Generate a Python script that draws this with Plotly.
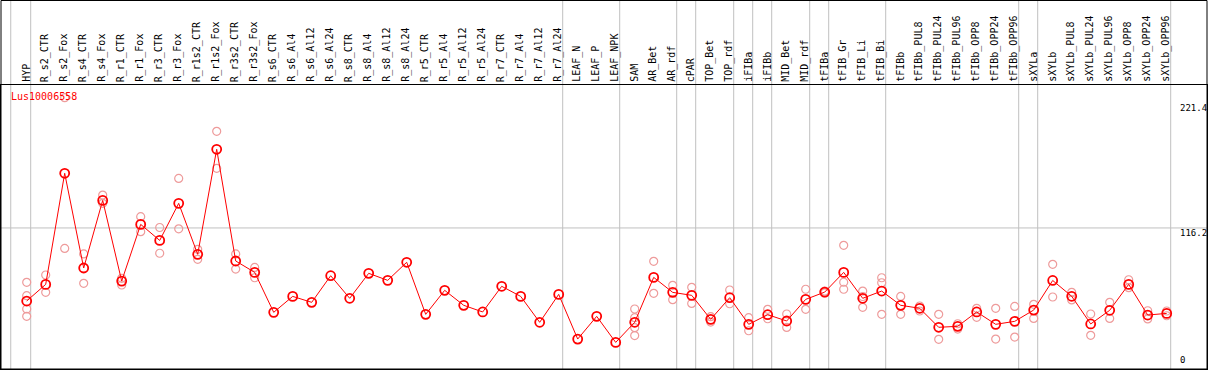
import plotly.graph_objects as go

categories = [
    "HYP", "R_s2_CTR", "R_s2_Fox", "R_s4_CTR", "R_s4_Fox", "R_r1_CTR", "R_r1_Fox",
    "R_r3_CTR", "R_r3_Fox", "R_r1s2_CTR", "R_r1s2_Fox", "R_r3s2_CTR", "R_r3s2_Fox",
    "R_s6_CTR", "R_s6_Al4", "R_s6_Al12", "R_s6_Al24", "R_s8_CTR", "R_s8_Al4",
    "R_s8_Al12", "R_s8_Al24", "R_r5_CTR", "R_r5_Al4", "R_r5_Al12", "R_r5_Al24",
    "R_r7_CTR", "R_r7_Al4", "R_r7_Al12", "R_r7_Al24", "LEAF_N", "LEAF_P", "LEAF_NPK",
    "SAM", "AR_Bet", "AR_rdf", "cPAR", "TOP_Bet", "TOP_rdf", "iFIBa", "iFIBb",
    "MID_Bet", "MID_rdf", "tFIBa", "tFIB_Gr", "tFIB_Li", "tFIB_Bi", "tFIBb",
    "tFIBb_PUL8", "tFIBb_PUL24", "tFIBb_PUL96", "tFIBb_OPP8", "tFIBb_OPP24",
    "tFIBb_OPP96", "sXYLa", "sXYLb", "sXYLb_PUL8", "sXYLb_PUL24", "sXYLb_PUL96",
    "sXYLb_OPP8", "sXYLb_OPP24", "sXYLb_OPP96",
]

# group sizes (vertical separators drawn after each group)
group_sizes = [1, 28, 3, 3, 1, 2, 1, 1, 2, 1, 3, 7, 1, 7]

mean_values = [
    54.7, 68.7, 162.2, 82.5, 139.4, 71.5, 119.2, 105.7, 136.9, 94.0, 182.4, 88.4, 78.8,
    45.2, 58.6, 53.6, 76.0, 57.0, 78.0, 72.1, 87.3, 43.5, 63.7, 51.1, 45.5, 67.1, 58.6,
    36.8, 60.3, 22.7, 41.8, 19.9, 36.8, 74.6, 62.0, 59.5, 39.3, 57.5, 35.1, 43.2, 37.9,
    56.1, 62.2, 78.8, 57.0, 63.1, 51.1, 48.6, 32.6, 33.4, 45.5, 35.1, 37.6, 47.1, 72.0,
    58.7, 35.4, 46.9, 68.7, 42.9, 44.3,
]

N = None
rep_a = [70.4, 76.6, 225.8, 94.3, 143.9, 73.8, 125.7, 116.6, 157.9, 98.2, 197.5, 94.3, 83.0,
         N, N, N, N, N, N, N, N, N, N, N, N, N, N, N, N, N, N, N,
         48.0, 88.1, 67.9, 66.2, 41.5, 64.0, 40.7, 47.7, 43.8, 64.6, 63.0, 101.6, 63.1, 74.3,
         58.6, 50.5, 43.5, 35.6, 48.6, 48.6, 50.2, 51.9, 85.6, 62.0, 43.8, 53.6, 72.6, 46.5, 46.3]
rep_b = [59.2, 62.0, 99.0, 69.6, 136.9, 68.2, 113.1, 94.9, 115.5, 89.8, 166.4, 81.6, 74.3,
         N, N, N, N, N, N, N, N, N, N, N, N, N, N, N, N, N, N, N,
         40.7, 61.2, 55.8, 52.7, 37.0, 52.4, 29.7, 39.8, 32.5, 47.7, 61.5, 70.5, 58.5, 70.1,
         43.5, 46.3, 22.5, 31.1, 41.0, 22.7, 24.4, 40.1, 58.1, 55.6, 25.8, 40.1, 65.9, 39.6, 42.3]
rep_c = [48.0, N, N, N, N, N, N, N, N, N, N, N, N,
         N, N, N, N, N, N, N, N, N, N, N, N, N, N, N, N, N, N, N,
         32.3, N, N, N, N, N, N, N, N, N, N, 64.6, 49.4, 43.5,
         N, N, N, N, N, N, N, N, N, N, N, N, N, N, N]
rep_d = [41.8, N, N, N, N, N, N, N, N, N, N, N, N,
         N, N, N, N, N, N, N, N, N, N, N, N, N, N, N, N, N, N, N,
         25.6, N, N, N, N, N, N, N, N, N, N, N, N, N,
         N, N, N, N, N, N, N, N, N, N, N, N, N, N, N]

y_tick_values = [221.4, 116.2, 0]
y_tick_labels = ["221.4", "116.2", "0"]
gene_name = "Lus10006558"

FONT = "DejaVu Sans Mono"
W, H = 1209, 370
ML, MR, MT, MB = 1, 2, 85, 1
plot_h = H - MT - MB
x_idx = list(range(len(categories)))

rep_x, rep_y = [], []
for reps in (rep_a, rep_b, rep_c, rep_d):
    for i, v in enumerate(reps):
        if v is not None:
            rep_x.append(i)
            rep_y.append(v)

fig = go.Figure()
fig.add_trace(go.Scatter(
    x=rep_x, y=rep_y, mode="markers",
    marker=dict(symbol="circle-open", size=8, color="rgb(238,155,155)", line=dict(width=1.2)),
    hoverinfo="skip", showlegend=False,
))
fig.add_trace(go.Scatter(
    x=x_idx, y=mean_values, mode="lines+markers",
    line=dict(color="red", width=1),
    marker=dict(symbol="circle-open", size=9, color="red", line=dict(width=1.8)),
    hoverinfo="skip", showlegend=False,
))

shapes = []
off = 0.21
seps = [-0.84]
acc = 0
for g in group_sizes:
    acc += g
    seps.append(acc - 1 + off)
top_paper = 1 + MT / plot_h
for s in seps:
    shapes.append(dict(type="line", xref="x", yref="paper", x0=s, x1=s, y0=0, y1=top_paper,
                       line=dict(color="rgb(192,192,192)", width=1), layer="below"))
shapes.append(dict(type="line", xref="paper", yref="y", x0=0, x1=1, y0=y_tick_values[1],
                   y1=y_tick_values[1], line=dict(color="rgb(192,192,192)", width=1), layer="below"))
shapes.append(dict(type="rect", xref="paper", yref="paper", x0=0, x1=1, y0=0, y1=top_paper - 0.5 / plot_h,
                   line=dict(color="black", width=1)))

annotations = []
for i, c in enumerate(categories):
    annotations.append(dict(x=i - 0.05, y=1, xref="x", yref="paper", text=c, showarrow=False,
                            textangle=-90, xanchor="center", yanchor="bottom", yshift=1,
                            font=dict(family=FONT, size=10, color="black")))
label_x = 60 + 0.21 + 7.5 / 19
for v, t in zip(y_tick_values, y_tick_labels):
    annotations.append(dict(x=label_x, y=v, xref="x", yref="y", text=t, showarrow=False,
                            xanchor="left", yanchor="bottom" if v == 0 else "top",
                            yshift=-1 if v == 0 else 2,
                            font=dict(family=FONT, size=9, color="black")))
annotations.append(dict(x=0.0065, y=1, xref="paper", yref="paper", text=gene_name, showarrow=False,
                        xanchor="left", yanchor="top", yshift=-4,
                        font=dict(family=FONT, size=10, color="red")))

x0_px = 26.7
fig.update_layout(
    width=W, height=H,
    margin=dict(l=ML, r=MR, t=MT, b=MB, pad=0),
    paper_bgcolor="white", plot_bgcolor="white",
    xaxis=dict(range=[(ML - x0_px) / 19, (W - MR - x0_px) / 19], showgrid=False, zeroline=False,
               showticklabels=False, ticks="", showline=True, mirror=True, linecolor="black",
               linewidth=1, fixedrange=True),
    yaxis=dict(range=[-2.5, 236.5], showgrid=False, zeroline=False, showticklabels=False,
               ticks="", showline=True, mirror=True, linecolor="black", linewidth=1,
               fixedrange=True),
    shapes=shapes, annotations=annotations, hovermode=False,
)

html = fig.to_html(full_html=True, include_plotlyjs=True, config={"displayModeBar": False})
html = html.replace("<head>", "<head><style>html,body{margin:0;padding:0;overflow:hidden;}</style>", 1)
with open("out.html", "w", encoding="utf-8") as f:
    f.write(html)
